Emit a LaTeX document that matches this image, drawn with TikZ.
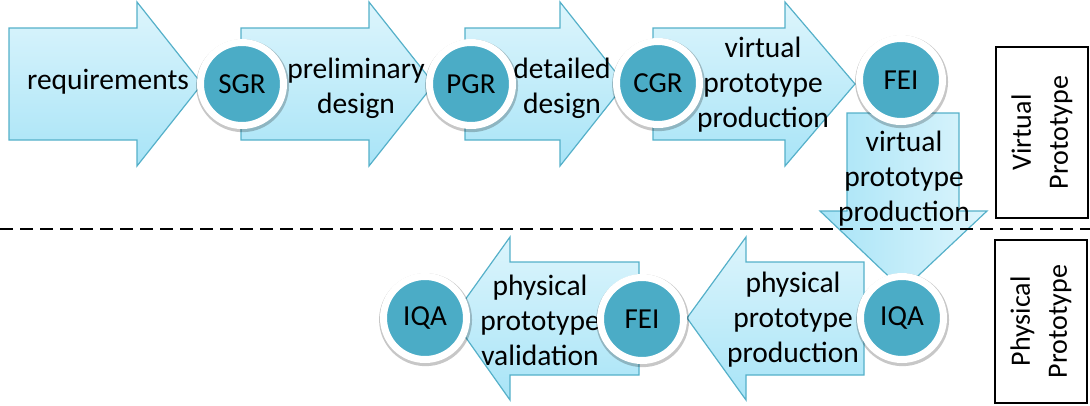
\documentclass[tikz,border=0pt]{standalone}
\usepackage{fontspec}
\setmainfont{Carlito}
\usetikzlibrary{shadows}
\definecolor{arrowtop}{HTML}{DDF5FC}
\definecolor{arrowbot}{HTML}{A8E4F7}
\definecolor{arrowline}{HTML}{55B0C9}
\definecolor{teal}{HTML}{4BACC6}
\tikzset{
  flowarrow/.style={draw=arrowline, line width=1.2pt, line join=miter, top color=arrowtop, bottom color=arrowbot},
  downarrow/.style={draw=arrowline, line width=1.2pt, line join=miter, left color=arrowbot, right color=arrowtop},
  gate/.style={circle, draw=white, line width=7pt, fill=teal, minimum size=83pt, inner sep=0pt,
    font=\fontsize{29}{33}\selectfont,
    drop shadow={shadow xshift=0.5pt, shadow yshift=-1.5pt, shadow scale=1.12, opacity=0.22, fill=black}},
  label/.style={align=center, inner sep=0pt, font=\fontsize{29.5}{35}\selectfont},
  phasebox/.style={draw=black, line width=1.3pt, minimum width=92pt, align=center, inner sep=0pt,
    font=\fontsize{28}{37}\selectfont},
  sep/.style={dashed, dash pattern=on 13pt off 7pt, line width=1.5pt, black}
}
\begin{document}
\begin{tikzpicture}[x=1pt, y=-1pt]
\useasboundingbox (0,0) rectangle (1090,405);
% top row arrows
\draw[flowarrow] (9,28) -- (137,28) -- (137,2) -- (202,84) -- (137,166) -- (137,140) -- (9,140) -- cycle;
\draw[flowarrow] (241,28) -- (369,28) -- (369,2) -- (434,84) -- (369,166) -- (369,140) -- (241,140) -- cycle;
\draw[flowarrow] (465,28) -- (560,28) -- (560,2) -- (625,84) -- (560,166) -- (560,140) -- (465,140) -- cycle;
\draw[flowarrow] (653,28) -- (785,28) -- (785,2) -- (855,84) -- (785,166) -- (785,140) -- (653,140) -- cycle;
% down arrow
\draw[downarrow] (847,113) -- (959,113) -- (959,211) -- (987,211) -- (903,290) -- (820,211) -- (847,211) -- cycle;
% bottom row arrows (pointing left)
\draw[flowarrow] (864,262) -- (746,262) -- (746,237) -- (687,318) -- (746,400) -- (746,375) -- (864,375) -- cycle;
\draw[flowarrow] (639,262) -- (510,262) -- (510,237) -- (452,318) -- (510,400) -- (510,375) -- (639,375) -- cycle;
% separator
\coordinate (sepL) at (0,229);
\coordinate (sepR) at (1090,229);
\draw[sep] (sepL) -- (sepR);
% labels
\node[label] (lreq) at (108,82) {requirements};
\node[label] (lpre) at (356,88) {preliminary\\design};
\node[label] (ldet) at (562,88) {detailed\\design};
\node[label] (lvpp) at (763,85) {virtual\\prototype\\production};
\node[label] (lvpd) at (904,179) {virtual\\prototype\\production};
\node[label] (lppp) at (793,320) {physical\\prototype\\production};
\node[label] (lppv) at (540,320) {physical\\prototype\\validation};
% gates
\node[gate] (sgr) at (242,84) {SGR};
\node[gate] (pgr) at (471,84) {PGR};
\node[gate] (cgr) at (658,83) {CGR};
\node[gate] (fei1) at (901,80) {FEI};
\node[gate] (iqa1) at (902,318) {IQA};
\node[gate] (fei2) at (642,319) {FEI};
\node[gate] (iqa2) at (425,318) {IQA};
% phase boxes
\node[phasebox, minimum height=171pt] (vbox) at (1042,132.5) {\rotatebox{90}{\begin{tabular}{@{}c@{}}Virtual\\Prototype\end{tabular}}};
\node[phasebox, minimum height=163pt] (pbox) at (1041,321.5) {\rotatebox{90}{\begin{tabular}{@{}c@{}}Physical\\Prototype\end{tabular}}};
\end{tikzpicture}
\end{document}
